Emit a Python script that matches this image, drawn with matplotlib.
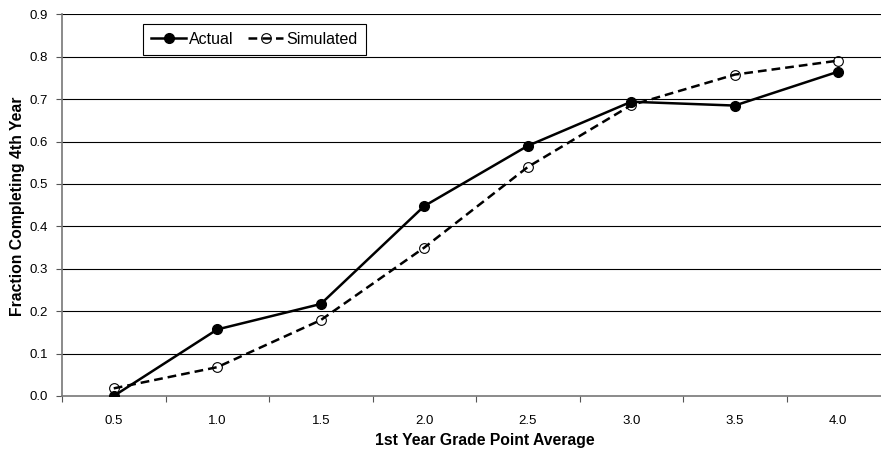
import matplotlib.pyplot as plt
from matplotlib.lines import Line2D

# data
gpa_labels = ['0.5', '1.0', '1.5', '2.0', '2.5', '3.0', '3.5', '4.0']
actual = [0.000, 0.157, 0.217, 0.448, 0.590, 0.694, 0.685, 0.765]
simulated = [0.018, 0.068, 0.179, 0.350, 0.540, 0.686, 0.758, 0.791]
y_ticks = [0.0, 0.1, 0.2, 0.3, 0.4, 0.5, 0.6, 0.7, 0.8, 0.9]

plt.rcParams['font.family'] = ['Liberation Sans', 'DejaVu Sans']
plt.rcParams['font.size'] = 9.5

fig = plt.figure(figsize=(8.81, 4.54), dpi=100)
W, H = 881, 454
# plot area runs past the right edge of the picture (cropped like the original)
left, right, top, bottom = 62, 890, 14.4, 396
ax = fig.add_axes([left / W, 1 - bottom / H, (right - left) / W, (bottom - top) / H])

x = list(range(len(gpa_labels)))
dash = (0, (3.5, 2))

ax.plot(x, actual, color='black', linestyle='-', linewidth=1.8,
        marker='o', markersize=7, markerfacecolor='black', markeredgecolor='black',
        label='Actual', zorder=4)
ax.plot(x, simulated, color='black', linestyle=dash, linewidth=1.8,
        marker='o', markersize=7, markerfacecolor='none', markeredgecolor='black',
        markeredgewidth=0.8, label='Simulated', zorder=3)

ax.set_xlim(-0.5, len(gpa_labels) - 0.5)
ax.set_ylim(0, 0.9)

# gridlines at each y tick
ax.set_yticks(y_ticks)
ax.set_yticklabels([f'{v:.1f}' for v in y_ticks])
for v in y_ticks[1:]:
    ax.axhline(v, color='black', linewidth=0.8, zorder=1)

# category axis: labels at centres, tick marks between categories
ax.set_xticks(x)
ax.set_xticklabels(gpa_labels)
ax.set_xticks([i + 0.5 for i in range(-1, len(gpa_labels))], minor=True)
ax.tick_params(axis='x', which='major', length=0, pad=14)
ax.tick_params(axis='x', which='minor', length=4, width=0.8, color='#555555', direction='out')
ax.tick_params(axis='y', length=4, width=0.8, color='#555555', direction='out', pad=6)
ax.tick_params(labelcolor='black', labelsize=9.5)

for side in ['top', 'right']:
    ax.spines[side].set_visible(False)
for side in ['left', 'bottom']:
    ax.spines[side].set_color('#777777')
    ax.spines[side].set_linewidth(1.2)

# axis titles placed at fixed pixel positions
fig.text(485 / W, 1 - 441 / H, '1st Year Grade Point Average', fontsize=11.3,
         fontweight='bold', ha='center', va='center')
fig.text(18 / W, 1 - 206 / H, 'Fraction Completing 4th Year', fontsize=11.3,
         fontweight='bold', ha='center', va='center', rotation=90)

handles = [
    Line2D([], [], color='black', linestyle='-', linewidth=1.8, marker='o', markersize=7,
           markerfacecolor='black'),
    Line2D([], [], color='black', linestyle=dash, linewidth=1.8, marker='o', markersize=7,
           markerfacecolor='none', markeredgewidth=0.8),
]
leg = ax.legend(handles, ['Actual', 'Simulated'], ncol=2, loc='upper left',
                bbox_to_anchor=((143 - left) / (right - left), 1 - (24 - top) / (bottom - top)),
                frameon=True, fancybox=False, edgecolor='black', framealpha=1,
                fontsize=11.5, handlelength=2.2, handletextpad=0.2, columnspacing=0.9,
                borderpad=0.5, borderaxespad=0)
leg.get_frame().set_linewidth(0.8)

fig.savefig('out.png', dpi=100)
